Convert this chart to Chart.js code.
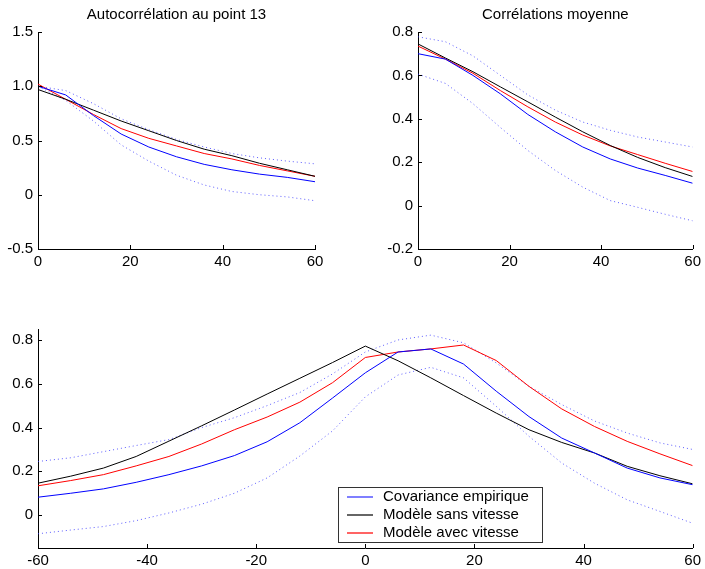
<!DOCTYPE html>
<html>
<head>
<meta charset="utf-8">
<script src="https://cdn.jsdelivr.net/npm/chart.js@4/dist/chart.umd.min.js"></script>
<style>
  body { margin: 0; background: #fff; }
  #wrap { position: relative; width: 705px; height: 569px; }
  #wrap canvas { position: absolute; left: 0; top: 0; }
</style>
</head>
<body>
<div id="wrap">
  <canvas id="autoChart" width="705" height="569"></canvas>
  <canvas id="moyChart" width="705" height="569"></canvas>
  <canvas id="croisChart" width="705" height="569"></canvas>
</div>
<script>
// Décalages (haut : 0..60, bas : -60..60)
var lagsHaut = [0, 6, 12, 18, 24, 30, 36, 42, 48, 54, 60]
var lagsBas = [-60, -54, -48, -42, -36, -30, -24, -18, -12, -6, 0, 6, 12, 18, 24, 30, 36, 42, 48, 54, 60]

var labels = ['Covariance empirique', 'Modèle sans vitesse', 'Modèle avec vitesse']
var couleurs = ['#0000ff', '#000000', '#ff0000']
var couleursLegende = ['#7f7fff', '#333333', '#ff3030']

// Autocorrélation au point 13
var autoEmp = [1.0, 0.92, 0.73, 0.56, 0.44, 0.35, 0.28, 0.23, 0.19, 0.16, 0.12]
var autoSans = [0.97, 0.88, 0.78, 0.68, 0.59, 0.50, 0.42, 0.36, 0.29, 0.23, 0.17]
var autoAvec = [1.02, 0.88, 0.74, 0.61, 0.52, 0.45, 0.38, 0.33, 0.27, 0.22, 0.17]
var autoHaut = [1.0, 0.96, 0.84, 0.70, 0.60, 0.51, 0.44, 0.38, 0.34, 0.31, 0.285]
var autoBas = [1.0, 0.87, 0.68, 0.46, 0.31, 0.18, 0.09, 0.03, 0.0, -0.02, -0.055]

// Corrélations moyenne
var moyEmp = [0.70, 0.675, 0.60, 0.515, 0.42, 0.34, 0.27, 0.215, 0.173, 0.139, 0.103]
var moySans = [0.745, 0.68, 0.617, 0.547, 0.478, 0.408, 0.34, 0.277, 0.222, 0.175, 0.134]
var moyAvec = [0.735, 0.675, 0.61, 0.53, 0.455, 0.385, 0.325, 0.275, 0.235, 0.195, 0.157]
var moyHaut = [0.778, 0.755, 0.69, 0.60, 0.51, 0.44, 0.385, 0.347, 0.316, 0.293, 0.27]
var moyBas = [0.606, 0.563, 0.47, 0.36, 0.254, 0.162, 0.085, 0.023, -0.008, -0.04, -0.07]

// Corrélations croisées
var croisEmp = [0.082, 0.10, 0.12, 0.15, 0.185, 0.225, 0.272, 0.335, 0.422, 0.535, 0.65, 0.745, 0.759, 0.69, 0.566, 0.45, 0.352, 0.284, 0.215, 0.17, 0.139]
var croisSans = [0.146, 0.178, 0.215, 0.268, 0.338, 0.408, 0.48, 0.553, 0.625, 0.697, 0.772, 0.705, 0.627, 0.546, 0.466, 0.39, 0.332, 0.284, 0.223, 0.18, 0.143]
var croisAvec = [0.134, 0.158, 0.185, 0.225, 0.268, 0.325, 0.39, 0.448, 0.516, 0.605, 0.72, 0.745, 0.759, 0.777, 0.706, 0.588, 0.485, 0.405, 0.337, 0.28, 0.226]
var croisHaut = [0.245, 0.262, 0.29, 0.318, 0.345, 0.40, 0.445, 0.50, 0.56, 0.645, 0.745, 0.80, 0.822, 0.787, 0.695, 0.588, 0.505, 0.43, 0.375, 0.33, 0.30]
var croisBas = [-0.085, -0.068, -0.052, -0.025, 0.01, 0.05, 0.10, 0.17, 0.27, 0.385, 0.54, 0.64, 0.675, 0.627, 0.497, 0.36, 0.238, 0.146, 0.07, 0.017, -0.037]

// Graduations
var xTicksHaut = [0, 20, 40, 60]
var xTicksBas = [-60, -40, -20, 0, 20, 40, 60]
var yTicksAuto = [-0.5, 0, 0.5, 1, 1.5]
var yTicksMoy = [-0.2, 0, 0.2, 0.4, 0.6, 0.8]
var yTicksCrois = [0, 0.2, 0.4, 0.6, 0.8]

Chart.defaults.font.family = '"Liberation Sans", Arial, sans-serif'
Chart.defaults.font.size = 15
Chart.defaults.color = '#000'

function pts(xs, ys) {
  return xs.map((x, i) => ({ x: x, y: ys[i] }))
}

function datasets(xs, emp, sans, avec, haut, bas) {
  var dotted = { borderColor: 'rgba(40,40,255,0.75)', borderWidth: 1, borderDash: [1, 3] }
  return [
    { label: labels[0], data: pts(xs, emp), borderColor: couleurs[0], borderWidth: 1 },
    { label: labels[1], data: pts(xs, sans), borderColor: couleurs[1], borderWidth: 1 },
    { label: labels[2], data: pts(xs, avec), borderColor: couleurs[2], borderWidth: 1 },
    Object.assign({ label: 'haut', data: pts(xs, haut) }, dotted),
    Object.assign({ label: 'bas', data: pts(xs, bas) }, dotted)
  ]
}

// Titres, graduations vers l'intérieur et légende
var decor = {
  id: 'decor',
  afterDraw(chart, args, opts) {
    var ctx = chart.ctx, a = chart.chartArea, sx = chart.scales.x, sy = chart.scales.y
    ctx.save()
    ctx.strokeStyle = '#000'
    ctx.lineWidth = 1
    ctx.beginPath()
    sx.ticks.forEach((t) => {
      var x = Math.round(sx.getPixelForValue(t.value)) + 0.5
      ctx.moveTo(x, a.bottom)
      ctx.lineTo(x, a.bottom - 4)
    })
    sy.ticks.forEach((t) => {
      var y = Math.round(sy.getPixelForValue(t.value)) + 0.5
      ctx.moveTo(a.left, y)
      ctx.lineTo(a.left + 4, y)
    })
    ctx.stroke()

    ctx.fillStyle = '#000'
    ctx.font = '15px "Liberation Sans", Arial, sans-serif'
    if (opts.title) {
      ctx.textAlign = 'center'
      ctx.textBaseline = 'middle'
      ctx.fillText(opts.title, (a.left + a.right) / 2, a.top - 17)
    }
    if (opts.legend) {
      var b = opts.legend
      ctx.fillStyle = '#fff'
      ctx.fillRect(b.x, b.y, b.w, b.h)
      ctx.strokeStyle = '#333'
      ctx.strokeRect(b.x + 0.5, b.y + 0.5, b.w, b.h)
      ctx.textAlign = 'left'
      ctx.textBaseline = 'middle'
      labels.forEach((txt, i) => {
        var y = b.y + 10 + i * 18
        ctx.beginPath()
        ctx.strokeStyle = couleursLegende[i]
        ctx.lineWidth = i == 0 ? 2 : 1.5
        ctx.moveTo(b.x + 9, y)
        ctx.lineTo(b.x + 35, y)
        ctx.stroke()
        ctx.fillStyle = '#000'
        ctx.fillText(txt, b.x + 45, y)
      })
    }
    ctx.restore()
  }
}

function makeChart(id, xs, sets, xMin, xMax, xTicks, yMin, yMax, yTicks, padding, decorOpts) {
  return new Chart(document.getElementById(id), {
    type: 'line',
    data: { datasets: sets },
    options: {
      responsive: false,
      animation: false,
      events: [],
      layout: { padding: padding },
      elements: {
        point: { radius: 0 },
        line: { tension: 0 }
      },
      plugins: {
        legend: { display: false },
        tooltip: { enabled: false },
        decor: decorOpts
      },
      scales: {
        x: {
          type: 'linear',
          min: xMin,
          max: xMax,
          grid: { display: false, drawTicks: false },
          border: { display: true, color: '#000' },
          ticks: { padding: 4, maxRotation: 0 },
          afterBuildTicks: (s) => { s.ticks = xTicks.map((v) => ({ value: v })) },
          afterFit: (s) => { s.height = 21 }
        },
        y: {
          min: yMin,
          max: yMax,
          grid: { display: false, drawTicks: false },
          border: { display: true, color: '#000' },
          ticks: { padding: 5 },
          afterBuildTicks: (s) => { s.ticks = yTicks.map((v) => ({ value: v })) },
          afterFit: (s) => { s.width = 38 }
        }
      }
    },
    plugins: [decor]
  })
}

var autoChart = makeChart('autoChart', lagsHaut,
  datasets(lagsHaut, autoEmp, autoSans, autoAvec, autoHaut, autoBas),
  0, 60, xTicksHaut, -0.5, 1.5, yTicksAuto,
  { left: 0, top: 32, right: 390, bottom: 299 },
  { title: 'Autocorrélation au point 13' })

var moyChart = makeChart('moyChart', lagsHaut,
  datasets(lagsHaut, moyEmp, moySans, moyAvec, moyHaut, moyBas),
  0, 60, xTicksHaut, -0.2, 0.8, yTicksMoy,
  { left: 380, top: 32, right: 11, bottom: 299 },
  { title: 'Corrélations moyenne' })

var croisChart = makeChart('croisChart', lagsBas,
  datasets(lagsBas, croisEmp, croisSans, croisAvec, croisHaut, croisBas),
  -60, 60, xTicksBas, -0.15, 0.85, yTicksCrois,
  { left: 0, top: 329, right: 10, bottom: 0 },
  { legend: { x: 338, y: 487, w: 204, h: 55 } })
</script>
</body>
</html>
